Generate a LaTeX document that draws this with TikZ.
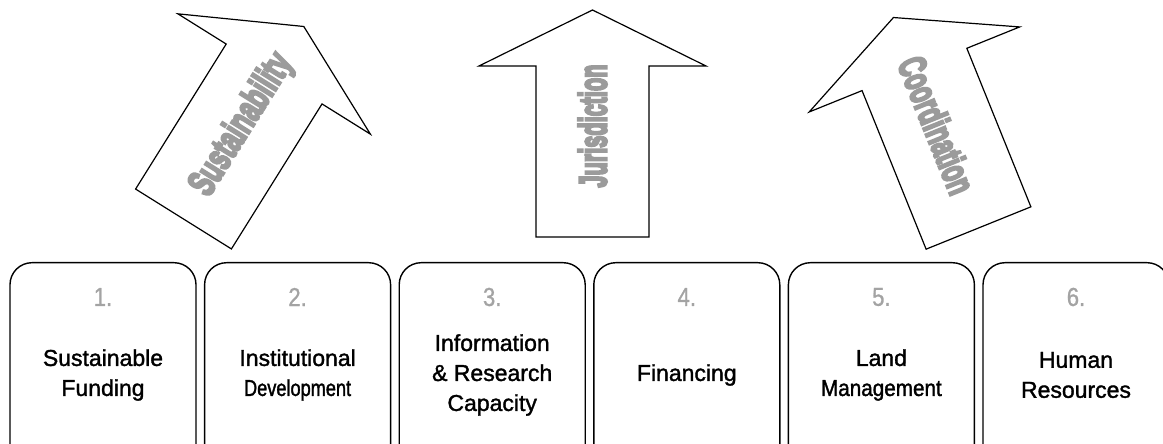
\documentclass[tikz,border=0pt]{standalone}
\usepackage{fontspec}
\setmainfont{Liberation Sans}
\newfontfamily\heavyface[FakeBold=7]{Liberation Sans Bold}
\newfontfamily\boxface[FakeBold=1.5]{Liberation Sans}
\newfontfamily\numface[FakeBold=1]{Liberation Sans}
\newcommand{\narrow}[2]{{\addfontfeatures{FakeStretch=#1}#2}}
\usepackage{graphicx}
\definecolor{numgray}{HTML}{A3A3A3}
\definecolor{wordgray}{HTML}{9B9B9B}
\tikzset{>=stealth}

\begin{document}
\begin{tikzpicture}[x=1pt, y=1pt,
  pillar/.style={draw, line width=1.4pt, rounded corners=22pt, minimum width=186pt,
    minimum height=250pt, anchor=north, inner sep=0pt},
  num/.style={text=numgray, font=\numface\fontsize{26}{26}\selectfont, inner sep=0pt},
  topic/.style={align=center, font=\boxface\fontsize{23}{30}\selectfont, inner sep=0pt},
  upshaft/.style={draw, line width=1.2pt, line join=miter, fill=white},
  word/.style={text=wordgray, font=\heavyface\fontsize{42}{42}\selectfont, inner sep=0pt}]
\useasboundingbox (0,0) rectangle (1163,444);
\clip (0,0) rectangle (1163,444);

% the three big arrows: base point, tilt, word, text direction, word length
\foreach \bx/\by/\ang/\word/\dir/\len in {183.5/225/-32/Sustainability/90/160,
    592.5/207/0/Jurisdiction/90/123, 978.5/216/22/Coordination/-90/144} {
  \begin{scope}[shift={(\bx,\by)}, rotate=\ang]
    \draw[upshaft] (-56.5,0) -- (56.5,0) -- (56.5,171) -- (113.5,171) -- (0,227)
      -- (-113.5,171) -- (-56.5,171) -- cycle;
    \node[word, rotate=\ang+\dir] (w\word) at (0,111) {\resizebox{\len pt}{28pt}{\word}};
  \end{scope}
}

% the six boxes along the bottom
\foreach \i/\txt in {1/{Sustainable\\Funding},
    2/{Institutional\\\narrow{0.79}{Development}},
    3/{Information\\\& Research\\Capacity},
    4/{Financing},
    5/{Land\\\narrow{0.9}{Management}},
    6/{Human\\Resources}} {
  \node[pillar] (box\i) at ({103+194.6*(\i-1)},182) {};
  \node[num] (num\i) at ({103+194.6*(\i-1)},147) {\narrow{0.85}{\i.}};
  \node[topic] (txt\i) at ({103+194.6*(\i-1)},69) {\txt};
}
\end{tikzpicture}
\end{document}
